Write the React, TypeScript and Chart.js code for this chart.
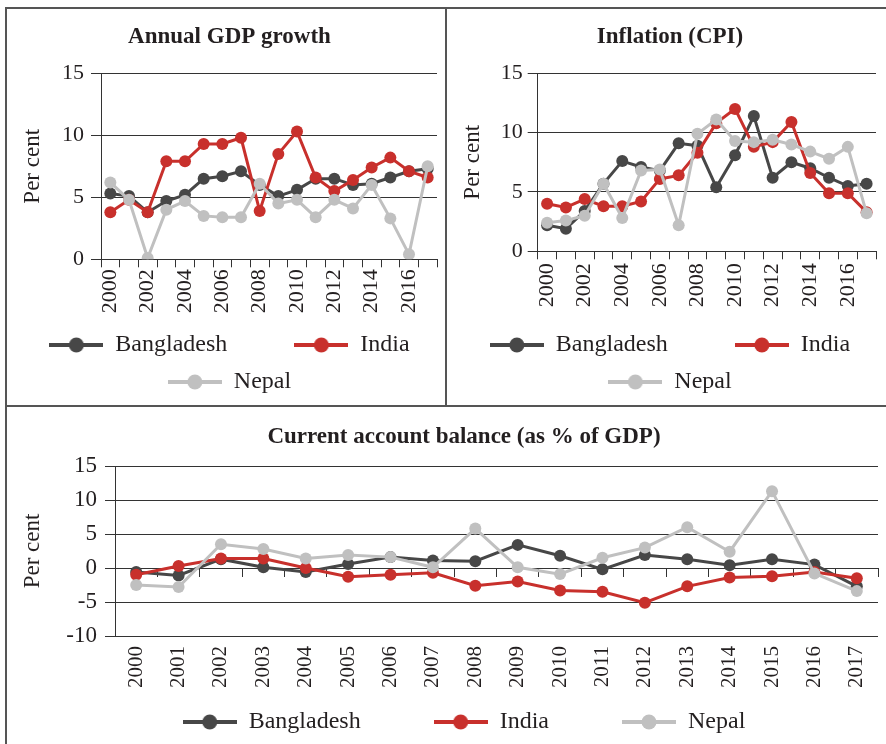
import React, { useEffect, useRef } from 'react';
import { Chart, registerables } from 'chart.js';

Chart.register(...registerables);

// ---------------- data ----------------
const years = ['2000', '2001', '2002', '2003', '2004', '2005', '2006', '2007', '2008', '2009', '2010', '2011', '2012', '2013', '2014', '2015', '2016', '2017'];
const seriesNames = ['Bangladesh', 'India', 'Nepal'];

const gdpBangladesh = [5.3, 5.1, 3.8, 4.7, 5.2, 6.5, 6.7, 7.1, 6.0, 5.1, 5.6, 6.5, 6.5, 6.0, 6.1, 6.6, 7.1, 7.3];
const gdpIndia = [3.8, 4.8, 3.8, 7.9, 7.9, 9.3, 9.3, 9.8, 3.9, 8.5, 10.3, 6.6, 5.5, 6.4, 7.4, 8.2, 7.1, 6.6];
const gdpNepal = [6.2, 4.8, 0.1, 4.0, 4.7, 3.5, 3.4, 3.4, 6.1, 4.5, 4.8, 3.4, 4.8, 4.1, 6.0, 3.3, 0.4, 7.5];

const inflBangladesh = [2.2, 1.9, 3.4, 5.7, 7.6, 7.1, 6.8, 9.1, 8.9, 5.4, 8.1, 11.4, 6.2, 7.5, 7.0, 6.2, 5.5, 5.7];
const inflIndia = [4.0, 3.7, 4.4, 3.8, 3.8, 4.2, 6.1, 6.4, 8.3, 10.8, 12.0, 8.8, 9.2, 10.9, 6.6, 4.9, 4.9, 3.3];
const inflNepal = [2.4, 2.6, 3.0, 5.7, 2.8, 6.8, 6.9, 2.2, 9.9, 11.1, 9.3, 9.2, 9.4, 9.0, 8.4, 7.8, 8.8, 3.2];

const cabBangladesh = [-0.6, -1.1, 1.3, 0.1, -0.6, 0.6, 1.6, 1.1, 1.0, 3.4, 1.8, -0.2, 1.9, 1.3, 0.4, 1.3, 0.5, -2.7];
const cabIndia = [-1.0, 0.3, 1.4, 1.4, 0.0, -1.3, -1.0, -0.7, -2.6, -2.0, -3.3, -3.5, -5.1, -2.7, -1.4, -1.2, -0.6, -1.5];
const cabNepal = [-2.5, -2.8, 3.5, 2.8, 1.4, 1.9, 1.6, 0.1, 5.8, 0.1, -0.9, 1.5, 3.0, 6.0, 2.4, 11.3, -0.8, -3.4];

const topTicks = [0, 5, 10, 15];
const bottomTicks = [-10, -5, 0, 5, 10, 15];

// ---------------- styles ----------------
const FONT = '"Liberation Serif", "Times New Roman", serif';
const TEXT = '#231f20';
const GRID = '#333333';
const BORDER = '#555555';
const COLORS = ['#474747', '#c8302c', '#c0c0c0'];
const LEGEND_FONT = 24;
const LEGEND_PAD = 13;

function legendImage(color: string): HTMLCanvasElement {
  const c = document.createElement('canvas');
  c.width = 54;
  c.height = 18;
  const ctx = c.getContext('2d')!;
  ctx.strokeStyle = color;
  ctx.lineWidth = 4;
  ctx.beginPath();
  ctx.moveTo(0, 9);
  ctx.lineTo(54, 9);
  ctx.stroke();
  ctx.fillStyle = color;
  ctx.beginPath();
  ctx.arc(27, 9, 7.5, 0, Math.PI * 2);
  ctx.fill();
  return c;
}

// pad legend text with trailing spaces so the next item starts `advance` px after this text starts
function padText(text: string, advance: number | null): string {
  if (advance == null) return text;
  const ctx = document.createElement('canvas').getContext('2d')!;
  ctx.font = `${LEGEND_FONT}px ${FONT}`;
  const w = ctx.measureText(text).width;
  const sp = ctx.measureText(' ').width || LEGEND_FONT * 0.25;
  const n = Math.max(0, Math.round((advance - LEGEND_PAD - w) / sp));
  return text + ' '.repeat(n);
}

interface PanelCfg {
  title: string;
  series: number[][];
  yTicks: number[];
  everyOther: boolean;
  zeroAxis: boolean;
  left: number; top: number; width: number; height: number;
  padL: number; padR: number; padB: number;
  titlePadTop: number; titlePadBottom: number;
  yWidth: number; yTitlePad: number; yTickLen: number; yLabelPad: number; yLabelSize: number;
  xHeight: number; xTickLen: number; xLabelPad: number; xLabelSize: number;
  advances: (number | null)[];
  pointRadius: number;
}

function buildConfig(cfg: PanelCfg): any {
  const images = COLORS.map(legendImage);
  const texts = seriesNames.map((n, i) => padText(n, cfg.advances[i]));
  const datasets = cfg.series.map((data, i) => ({
    label: seriesNames[i],
    data,
    borderColor: COLORS[i],
    backgroundColor: COLORS[i],
    pointBackgroundColor: COLORS[i],
    pointBorderColor: COLORS[i],
    pointBorderWidth: 0,
    pointRadius: cfg.pointRadius,
    pointHoverRadius: cfg.pointRadius,
    borderWidth: 3,
    tension: 0,
    order: 3 - i,
    xAxisID: 'x',
    yAxisID: 'y',
  }));

  const xFit = (s: any) => {
    s.height = cfg.xHeight;
    s.paddingLeft = 0;
    s.paddingRight = 0;
  };

  const scales: any = {
    y: {
      min: cfg.yTicks[0],
      max: cfg.yTicks[cfg.yTicks.length - 1],
      afterBuildTicks: (s: any) => { s.ticks = cfg.yTicks.map((v) => ({ value: v })); },
      ticks: { padding: cfg.yLabelPad, font: { family: FONT, size: cfg.yLabelSize }, color: TEXT },
      grid: { color: GRID, lineWidth: 1, drawTicks: true, tickLength: cfg.yTickLen },
      border: { display: true, color: GRID, width: 1 },
      title: {
        display: true,
        text: 'Per cent',
        font: { family: FONT, size: 23, lineHeight: 1 },
        color: TEXT,
        padding: { top: cfg.yTitlePad, bottom: 0 },
      },
      afterFit: (s: any) => { s.width = cfg.yWidth; },
    },
  };

  if (!cfg.zeroAxis) {
    scales.x = {
      type: 'category',
      offset: true,
      grid: { offset: true, drawOnChartArea: false, drawTicks: true, tickLength: cfg.xTickLen, color: GRID, lineWidth: 1 },
      border: { display: true, color: GRID, width: 1 },
      ticks: {
        autoSkip: false,
        maxRotation: 90,
        minRotation: 90,
        padding: cfg.xLabelPad,
        font: { family: FONT, size: cfg.xLabelSize },
        color: TEXT,
        callback: (_v: any, i: number) => (cfg.everyOther && i % 2 === 1 ? '' : years[i]),
      },
      afterFit: xFit,
    };
  } else {
    scales.x = {
      type: 'category',
      offset: true,
      grid: { display: false, drawTicks: false },
      border: { display: false },
      ticks: {
        autoSkip: false,
        maxRotation: 90,
        minRotation: 90,
        padding: cfg.xLabelPad,
        font: { family: FONT, size: cfg.xLabelSize },
        color: TEXT,
      },
      afterFit: xFit,
    };
    scales.x2 = {
      type: 'category',
      position: { y: 0 },
      offset: true,
      grid: { offset: true, drawOnChartArea: false, drawTicks: true, tickLength: cfg.xTickLen, color: GRID, lineWidth: 1 },
      border: { display: false },
      ticks: { display: false },
    };
  }

  return {
    type: 'line',
    data: { labels: years, datasets },
    options: {
      animation: false,
      responsive: false,
      events: [],
      layout: { padding: { left: cfg.padL, right: cfg.padR, top: 0, bottom: cfg.padB } },
      scales,
      plugins: {
        tooltip: { enabled: false },
        title: {
          display: true,
          text: cfg.title,
          color: TEXT,
          font: { family: FONT, size: 23, weight: 'bold', lineHeight: 1.2 },
          padding: { top: cfg.titlePadTop, bottom: cfg.titlePadBottom },
        },
        legend: {
          display: true,
          position: 'bottom',
          labels: {
            usePointStyle: true,
            pointStyleWidth: 54,
            padding: LEGEND_PAD,
            color: TEXT,
            font: { family: FONT, size: LEGEND_FONT },
            generateLabels: (chart: any) =>
              chart.data.datasets.map((ds: any, i: number) => ({
                text: texts[i],
                fillStyle: ds.borderColor,
                strokeStyle: ds.borderColor,
                lineWidth: 0,
                pointStyle: images[i],
                hidden: false,
                datasetIndex: i,
                fontColor: TEXT,
              })),
          },
        },
      },
    },
  };
}

function ChartPanel({ cfg }: { cfg: PanelCfg }) {
  const ref = useRef<HTMLCanvasElement>(null);
  useEffect(() => {
    const chart = new Chart(ref.current!, buildConfig(cfg));
    return () => chart.destroy();
  }, []);
  return (
    <canvas
      ref={ref}
      width={cfg.width}
      height={cfg.height}
      style={{ position: 'absolute', left: cfg.left, top: cfg.top, width: cfg.width, height: cfg.height }}
    />
  );
}

const gdpCfg: PanelCfg = {
  title: 'Annual GDP growth',
  series: [gdpBangladesh, gdpIndia, gdpNepal],
  yTicks: topTicks,
  everyOther: true,
  zeroAxis: false,
  left: 8, top: 10, width: 437, height: 395,
  padL: 14, padR: 8, padB: 1,
  titlePadTop: 13.2, titlePadBottom: 22.5,
  yWidth: 79, yTitlePad: -0.5, yTickLen: 10, yLabelPad: 7, yLabelSize: 22,
  xHeight: 60.7, xTickLen: 8, xLabelPad: 2, xLabelSize: 22,
  advances: [180, null, null],
  pointRadius: 6,
};

const inflCfg: PanelCfg = {
  title: 'Inflation (CPI)',
  series: [inflBangladesh, inflIndia, inflNepal],
  yTicks: topTicks,
  everyOther: true,
  zeroAxis: false,
  left: 448, top: 10, width: 438, height: 395,
  padL: 16, padR: 10, padB: 1,
  titlePadTop: 13.2, titlePadBottom: 22.5,
  yWidth: 73.7, yTitlePad: -2.5, yTickLen: 10, yLabelPad: 5, yLabelSize: 22,
  xHeight: 68.7, xTickLen: 8, xLabelPad: 4, xLabelSize: 22,
  advances: [181, null, null],
  pointRadius: 6,
};

const cabCfg: PanelCfg = {
  title: 'Current account balance (as % of GDP)',
  series: [cabBangladesh, cabIndia, cabNepal],
  yTicks: bottomTicks,
  everyOther: false,
  zeroAxis: true,
  left: 8, top: 408, width: 912, height: 336,
  padL: 42, padR: 42, padB: 0,
  titlePadTop: 15.2, titlePadBottom: 15.2,
  yWidth: 65, yTitlePad: -28.5, yTickLen: 10, yLabelPad: 8, yLabelSize: 23,
  xHeight: 61, xTickLen: 9, xLabelPad: 10, xLabelSize: 21,
  advances: [183, 125, null],
  pointRadius: 6,
};

function Line({ l, t, w, h }: { l: number; t: number; w: number; h: number }) {
  return <div style={{ position: 'absolute', left: l, top: t, width: w, height: h, background: BORDER }} />;
}

export default function App() {
  return (
    <div style={{ position: 'absolute', left: 0, top: 0, width: 886, height: 744, overflow: 'hidden', background: '#ffffff' }}>
      <ChartPanel cfg={gdpCfg} />
      <ChartPanel cfg={inflCfg} />
      <ChartPanel cfg={cabCfg} />
      <Line l={5} t={7} w={900} h={2} />
      <Line l={5} t={7} w={2} h={760} />
      <Line l={445} t={7} w={2} h={400} />
      <Line l={5} t={405} w={900} h={2} />
    </div>
  );
}
